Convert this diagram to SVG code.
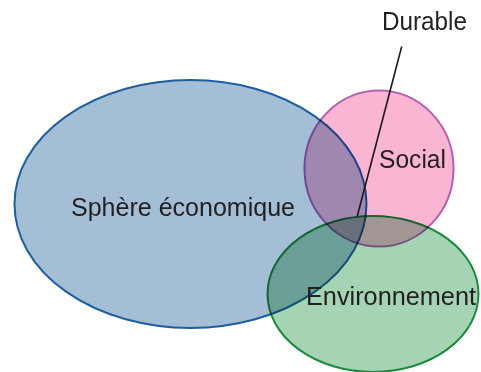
<svg xmlns="http://www.w3.org/2000/svg" width="481" height="372" viewBox="0 0 481 372">
<style>
.shape{mix-blend-mode:multiply;stroke-width:2}
.lbl{font-family:"Liberation Sans",Arial,sans-serif;font-size:26.5px;fill:#231f20}
</style>
<rect width="481" height="372" fill="#ffffff"/>
<g id="economique">
<ellipse class="shape" cx="190.5" cy="204" rx="176" ry="124" fill="#a4bed6" stroke="#1f5e9e"/>
</g>
<g id="social">
<ellipse class="shape" cx="379" cy="168.5" rx="74.5" ry="78" fill="#f9b5d2" stroke="#b062b0"/>
</g>
<g id="environnement">
<ellipse class="shape" cx="373" cy="294" rx="105.5" ry="78" fill="#a5d4b4" stroke="#1b8a3e"/>
</g>
<g id="connectors">
<line x1="401.7" y1="46.5" x2="357.3" y2="216" stroke="#1a1a1a" stroke-width="1.6"/>
</g>
<g id="labels">
<text class="lbl" x="71" y="215.5" textLength="224" lengthAdjust="spacingAndGlyphs">Sphère économique</text>
<text class="lbl" x="379" y="168" textLength="67" lengthAdjust="spacingAndGlyphs">Social</text>
<text class="lbl" x="306" y="305" textLength="170" lengthAdjust="spacingAndGlyphs">Environnement</text>
<text class="lbl" x="382" y="30" textLength="85" lengthAdjust="spacingAndGlyphs">Durable</text>
</g>
</svg>
